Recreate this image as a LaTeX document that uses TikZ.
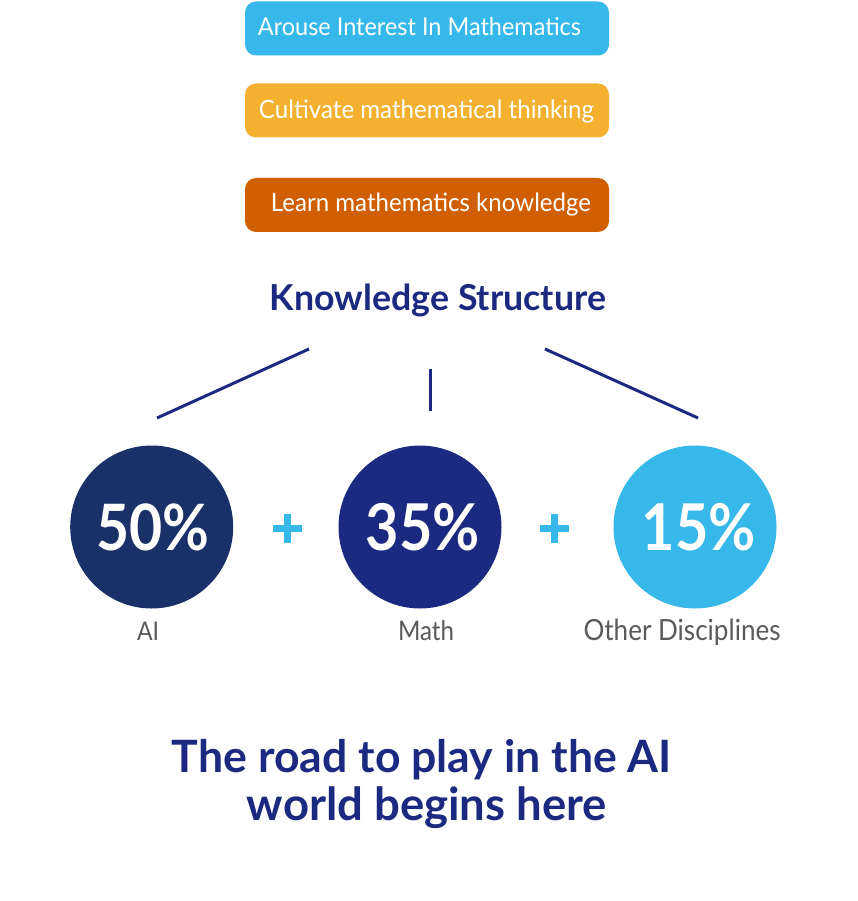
\documentclass[tikz,border=0pt]{standalone}
\usepackage{fontspec}
\setmainfont{Lato}
\usepackage{graphicx}
\definecolor{skyb}{HTML}{36B8EA}
\definecolor{goldy}{HTML}{F3B12F}
\definecolor{rust}{HTML}{CF5F00}
\definecolor{navy}{HTML}{1B2A80}
\definecolor{deepnavy}{HTML}{1A3068}
\definecolor{labgray}{HTML}{5A5A5A}
\newcommand{\fitw}[2]{\resizebox{#1pt}{!}{#2}}
\newcommand{\fitwv}[3]{\scalebox{1}[#3]{\resizebox{#1pt}{!}{#2}}}
\begin{document}
\begin{tikzpicture}[x=1pt,y=-1pt,
  pill/.style={rounded corners=11pt, minimum width=364pt, minimum height=54pt, inner sep=0pt},
  pilltext/.style={anchor=base, inner sep=0pt, text=white},
  bigdisc/.style={circle, minimum size=163pt, inner sep=0pt},
  pct/.style={anchor=base, inner sep=0pt, text=white, font=\bfseries},
  lab/.style={anchor=base, inner sep=0pt, text=labgray},
  head/.style={anchor=base, inner sep=0pt, text=navy, font=\bfseries},
  branch/.style={draw=navy, line width=3pt},
  plusarm/.style={draw=skyb, line width=7pt}]
\useasboundingbox (0,0) rectangle (857,901);
% top pills
\node[pill, fill=skyb] (b1) at (427,28.5) {};
\node[pilltext] (t1) at (419.5,36) {\fitwv{323}{Arouse Interest In Mathematics}{1.05}};
\node[pill, fill=goldy] (b2) at (427,110.5) {};
\node[pilltext] (t2) at (426.5,119) {\fitwv{335}{Cultivate mathematical thinking}{1.05}};
\node[pill, fill=rust] (b3) at (427,205) {};
\node[pilltext] (t3) at (431,212) {\fitwv{320}{Learn mathematics knowledge}{1.05}};
% heading
\node[head] (ks) at (438,310) {\fitw{336}{Knowledge Structure}};
% branches
\coordinate (l1) at (309,349); \coordinate (l2) at (157,418);
\coordinate (m1) at (430,369); \coordinate (m2) at (430,411);
\coordinate (r1) at (545,349); \coordinate (r2) at (698,418);
\draw[branch] (l1) -- (l2);
\draw[branch] (m1) -- (m2);
\draw[branch] (r1) -- (r2);
% discs
\node[bigdisc, fill=deepnavy] (ai) at (151.7,527) {};
\node[bigdisc, fill=navy] (ma) at (420,527) {};
\node[bigdisc, fill=skyb] (ot) at (695,527) {};
\node[pct] (p1) at (153,550) {\fitwv{113}{50\%}{1.12}};
\node[pct] (p2) at (423,550) {\fitwv{114}{35\%}{1.12}};
\node[pct] (p3) at (699,550) {\fitwv{114}{15\%}{1.12}};
% plus signs
\coordinate (pa) at (287,528); \coordinate (pb) at (554,528);
\draw[plusarm] ([xshift=-14.5pt]pa) -- ([xshift=14.5pt]pa);
\draw[plusarm] ([yshift=-14.5pt]pa) -- ([yshift=14.5pt]pa);
\draw[plusarm] ([xshift=-14.5pt]pb) -- ([xshift=14.5pt]pb);
\draw[plusarm] ([yshift=-14.5pt]pb) -- ([yshift=14.5pt]pb);
% labels
\node[lab] (la) at (148,640) {\fitwv{22}{AI}{1.12}};
\node[lab] (lm) at (426,640) {\fitwv{56}{Math}{1.12}};
\node[lab] (lo) at (682,640) {\fitwv{197}{Other Disciplines}{1.12}};
% slogan
\node[head] (s1) at (422,772) {\fitw{500}{The road to play in the AI}};
\node[head] (s2) at (427,820) {\fitw{360}{world begins here}};
\end{tikzpicture}
\end{document}
